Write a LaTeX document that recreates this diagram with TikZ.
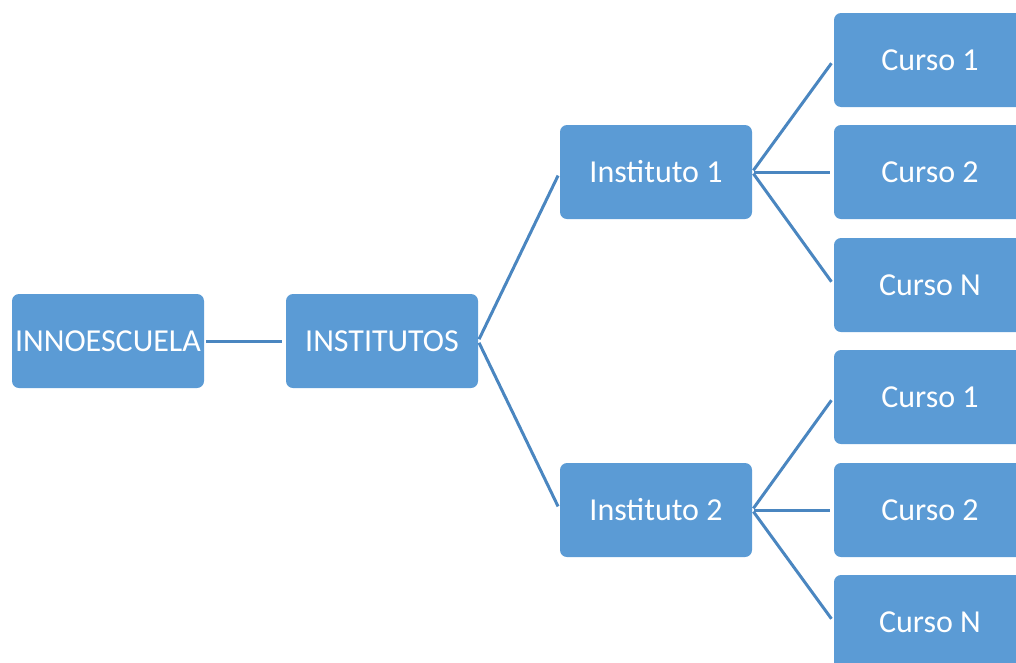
\documentclass[tikz,border=0pt]{standalone}
\usepackage{fontspec}
\setmainfont{Carlito}
\definecolor{boxblue}{HTML}{5B9BD5}
\definecolor{lineblue}{HTML}{4A86C0}
\tikzset{
	orgbox/.style={rectangle,rounded corners=7pt,fill=boxblue,text=white,
		minimum width=192pt,minimum height=94pt,inner sep=0pt,font=\fontsize{32}{38}\selectfont},
	link/.style={draw=lineblue,line width=3pt,shorten <=2pt,shorten >=4pt}
}
\begin{document}
\begin{tikzpicture}[x=1pt,y=-1pt]
	\useasboundingbox (0,0) rectangle (1016,662);
	\clip (0,0) rectangle (1016,662);
	\node[orgbox] (root) at (108,341) {INNOESCUELA};
	\node[orgbox] (insts) at (382,341) {INSTITUTOS};
	\node[orgbox] (inst1) at (656,172) {Instituto 1};
	\node[orgbox] (inst2) at (656,510) {Instituto 2};
	\node[orgbox] (c11) at (930,60) {Curso 1};
	\node[orgbox] (c12) at (930,172) {Curso 2};
	\node[orgbox] (c1n) at (930,285) {Curso N};
	\node[orgbox] (c21) at (930,397) {Curso 1};
	\node[orgbox] (c22) at (930,510) {Curso 2};
	\node[orgbox] (c2n) at (930,622) {Curso N};
	\draw[link] (root.east) -- (insts.west);
	\draw[link] (insts.east) -- (inst1.west);
	\draw[link] (insts.east) -- (inst2.west);
	\draw[link] (inst1.east) -- (c11.west);
	\draw[link] (inst1.east) -- (c12.west);
	\draw[link] (inst1.east) -- (c1n.west);
	\draw[link] (inst2.east) -- (c21.west);
	\draw[link] (inst2.east) -- (c22.west);
	\draw[link] (inst2.east) -- (c2n.west);
\end{tikzpicture}
\end{document}
